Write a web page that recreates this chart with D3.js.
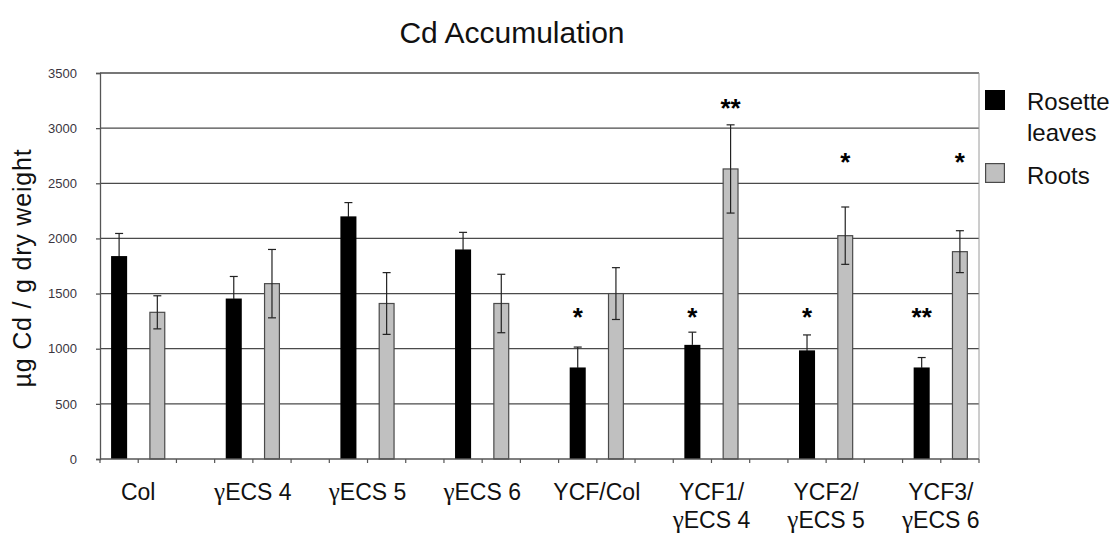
<!DOCTYPE html>
<html>
<head>
<meta charset="utf-8">
<script src="https://cdn.jsdelivr.net/npm/d3@7"></script>
<style>
  html, body { margin: 0; padding: 0; background: #fff; }
  svg { display: block; font-family: "Liberation Sans", Arial, sans-serif; }
</style>
</head>
<body>
<svg id="chart" width="1115" height="536"></svg>
<script>
// Genotypes (one group per line of plants)
const groups = ["Col", "\u03b3ECS 4", "\u03b3ECS 5", "\u03b3ECS 6", "YCF/Col",
                "YCF1/\n\u03b3ECS 4", "YCF2/\n\u03b3ECS 5", "YCF3/\n\u03b3ECS 6"];

// Cd content, µg Cd / g dry weight (mean and error)
const leaves    = [1840, 1455, 2200, 1900, 830, 1035, 985, 830];
const leavesErr = [205, 200, 125, 155, 185, 115, 140, 90];
const roots     = [1330, 1590, 1410, 1410, 1500, 2630, 2025, 1880];
const rootsErr  = [150, 310, 280, 265, 235, 400, 260, 190];

// Significance marks versus Col
const leavesSig = ["", "", "", "", "*", "*", "*", "**"];
const rootsSig  = ["", "", "", "", "", "**", "*", "*"];

const yTicks = [0, 500, 1000, 1500, 2000, 2500, 3000, 3500];
const seriesNames = ["Rosette\nleaves", "Roots"];

const svg = d3.select("#chart");
const plot = { left: 100, right: 979, top: 73, bottom: 459 };

// 3 category slots per genotype (leaves, roots, spacer); the last spacer is dropped
const slots = d3.range(groups.length * 3 - 1);
const x = d3.scaleBand().domain(slots)
  .range([plot.left, plot.right])
  .paddingInner(0.58).paddingOuter(0.29);
const step = x.step();
const y = d3.scaleLinear().domain([0, 3500]).range([plot.bottom, plot.top]);

// Title
svg.append("text")
  .attr("x", 512).attr("y", 43)
  .attr("text-anchor", "middle")
  .attr("font-size", 30).attr("fill", "#111")
  .text("Cd Accumulation");

// Y axis title
svg.append("text")
  .attr("transform", "translate(31,268) rotate(-90)")
  .attr("text-anchor", "middle")
  .attr("font-size", 25).attr("letter-spacing", 0.8).attr("fill", "#111")
  .text("\u00b5g Cd / g dry weight");

// Horizontal gridlines
svg.append("g")
  .selectAll("line").data(yTicks.filter(d => d > 0)).join("line")
  .attr("x1", plot.left).attr("x2", plot.right)
  .attr("y1", d => y(d)).attr("y2", d => y(d))
  .attr("stroke", "#4a4a4a").attr("stroke-width", 1.3);

// Right border of plot area
svg.append("line")
  .attr("x1", plot.right).attr("x2", plot.right)
  .attr("y1", plot.top).attr("y2", plot.bottom)
  .attr("stroke", "#9a9a9a").attr("stroke-width", 1);

// Y axis
const yAxis = svg.append("g")
  .attr("transform", `translate(${plot.left},0)`)
  .call(d3.axisLeft(y).tickValues(yTicks).tickSize(4).tickPadding(19).tickFormat(d3.format("d")));
yAxis.select(".domain").attr("stroke", "#555").attr("stroke-width", 1.3);
yAxis.selectAll(".tick line").attr("stroke", "#555").attr("stroke-width", 1.3);
yAxis.selectAll(".tick text")
  .attr("font-family", "'Liberation Sans', Arial, sans-serif")
  .attr("font-size", 13).attr("fill", "#3a3540");

// Bars
const leafIdx = groups.map((g, i) => i * 3);
const rootIdx = groups.map((g, i) => i * 3 + 1);

svg.append("g").selectAll("rect").data(leaves).join("rect")
  .attr("x", (d, i) => x(leafIdx[i]))
  .attr("width", x.bandwidth())
  .attr("y", d => y(d))
  .attr("height", d => y(0) - y(d))
  .attr("fill", "#000");

svg.append("g").selectAll("rect").data(roots).join("rect")
  .attr("x", (d, i) => x(rootIdx[i]) + 0.6)
  .attr("width", x.bandwidth() - 1.2)
  .attr("y", d => y(d))
  .attr("height", d => y(0) - y(d))
  .attr("fill", "#c0c0c0")
  .attr("stroke", "#4a4a4a").attr("stroke-width", 1.2);

// Error bars; the lower half on the black bars is black and disappears into the bar
function errorBars(values, errs, idx, lowColor) {
  const g = svg.append("g").attr("stroke-width", 1.2);
  values.forEach((v, i) => {
    const cx = x(idx[i]) + x.bandwidth() / 2;
    const top = y(v), hi = y(v + errs[i]), lo = y(v - errs[i]);
    g.append("line").attr("stroke", "#222").attr("x1", cx).attr("x2", cx).attr("y1", hi).attr("y2", top);
    g.append("line").attr("stroke", lowColor).attr("x1", cx).attr("x2", cx).attr("y1", top).attr("y2", lo);
    g.append("line").attr("stroke", "#222").attr("x1", cx - 4).attr("x2", cx + 4).attr("y1", hi).attr("y2", hi);
    g.append("line").attr("stroke", lowColor).attr("x1", cx - 4).attr("x2", cx + 4).attr("y1", lo).attr("y2", lo);
  });
}
errorBars(leaves, leavesErr, leafIdx, "#000");
errorBars(roots, rootsErr, rootIdx, "#222");

// X axis line and slot ticks
svg.append("line")
  .attr("x1", plot.left).attr("x2", plot.right)
  .attr("y1", plot.bottom).attr("y2", plot.bottom)
  .attr("stroke", "#555").attr("stroke-width", 1.3);
svg.append("g").selectAll("line").data(d3.range(slots.length + 1)).join("line")
  .attr("x1", d => plot.left + d * step).attr("x2", d => plot.left + d * step)
  .attr("y1", plot.bottom).attr("y2", plot.bottom + 4)
  .attr("stroke", "#555").attr("stroke-width", 1.2);

// Category labels, centred under each pair of bars; gamma set in a serif face
function writeLine(tspanParent, line, cx, dy) {
  const row = tspanParent.append("tspan").attr("x", cx).attr("dy", dy);
  const parts = line.split(/(\u03b3)/).filter(p => p.length);
  parts.forEach((p, j) => {
    const t = j === 0 ? row : tspanParent.append("tspan");
    if (p === "\u03b3") t.attr("font-family", "'Liberation Serif', 'DejaVu Serif', serif").attr("font-size", 25);
    t.text(p);
  });
}
const labels = svg.append("g")
  .attr("font-size", 23).attr("fill", "#111").attr("text-anchor", "middle");
groups.forEach((g, i) => {
  const cx = plot.left + step * (i * 3 + 1);
  const t = labels.append("text").attr("x", cx).attr("y", 500);
  g.split("\n").forEach((line, k) => writeLine(t, line, cx, k === 0 ? 0 : 28));
});

// Significance marks (anchored in data units)
const marks = svg.append("g")
  .attr("font-size", 26).attr("font-weight", "bold").attr("fill", "#000")
  .attr("text-anchor", "middle");
leavesSig.forEach((s, i) => {
  if (!s) return;
  marks.append("text")
    .attr("x", x(leafIdx[i]) + x.bandwidth() / 2)
    .attr("y", y(1350) + 16).text(s);
});
rootsSig.forEach((s, i) => {
  if (!s) return;
  const level = s === "**" ? 3250 : 2755;
  marks.append("text")
    .attr("x", x(rootIdx[i]) + x.bandwidth() / 2)
    .attr("y", y(level) + 16).text(s);
});

// Legend
const legend = svg.append("g");
legend.append("rect").attr("x", 985).attr("y", 90).attr("width", 20).attr("height", 20)
  .attr("fill", "#000");
legend.append("rect").attr("x", 985.6).attr("y", 163.6).attr("width", 18.8).attr("height", 18.8)
  .attr("fill", "#c0c0c0").attr("stroke", "#4a4a4a").attr("stroke-width", 1.2);
const lt = legend.append("g").attr("font-size", 24).attr("fill", "#111");
const first = lt.append("text").attr("x", 1027).attr("y", 110);
seriesNames[0].split("\n").forEach((line, k) => {
  first.append("tspan").attr("x", 1027).attr("dy", k === 0 ? 0 : 31).text(line);
});
lt.append("text").attr("x", 1027).attr("y", 184).text(seriesNames[1]);
</script>
</body>
</html>
